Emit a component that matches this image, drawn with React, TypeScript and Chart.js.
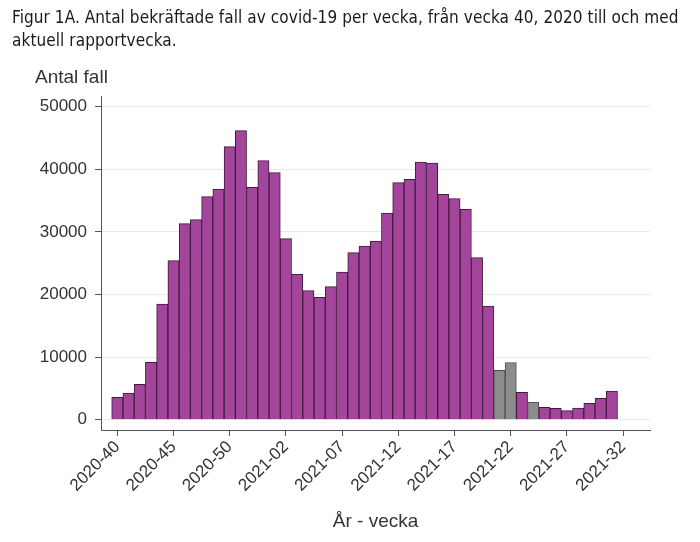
import React, { useEffect, useRef } from 'react';
import { Chart, registerables } from 'chart.js';

Chart.register(...registerables);

// Reported weeks, from 2020-40 through 2021-31
const weeks = [
  '2020-40', '2020-41', '2020-42', '2020-43', '2020-44', '2020-45', '2020-46', '2020-47',
  '2020-48', '2020-49', '2020-50', '2020-51', '2020-52', '2020-53',
  '2021-01', '2021-02', '2021-03', '2021-04', '2021-05', '2021-06', '2021-07', '2021-08',
  '2021-09', '2021-10', '2021-11', '2021-12', '2021-13', '2021-14', '2021-15', '2021-16',
  '2021-17', '2021-18', '2021-19', '2021-20', '2021-21', '2021-22', '2021-23', '2021-24',
  '2021-25', '2021-26', '2021-27', '2021-28', '2021-29', '2021-30', '2021-31',
];

// Confirmed cases per week
const cases = [
  3570, 4260, 5640, 9160, 18480, 25400, 31310, 31950,
  35620, 36850, 43610, 46170, 37110, 41370,
  39460, 28910, 23220, 20610, 19540, 21250, 23590, 26680,
  27740, 28540, 33010, 37860, 38390, 41160, 41000, 36000,
  35300, 33600, 25880, 18160, 7900, 9100, 4370, 2820,
  1970, 1810, 1440, 1860, 2610, 3410, 4580,
];

// Weeks shown in grey
const greyWeeks = ['2021-21', '2021-22', '2021-24'];

const xTickLabels = [
  '2020-40', '2020-45', '2020-50', '2021-02', '2021-07',
  '2021-12', '2021-17', '2021-22', '2021-27', '2021-32',
];
const yTickValues = [0, 10000, 20000, 30000, 40000, 50000];

const TITLE_LINES = [
  'Figur 1A. Antal bekräftade fall av covid-19 per vecka, från vecka 40, 2020 till och med',
  'aktuell rapportvecka.',
];

// Position of a "YYYY-WW" week on a running week index (2020 had 53 weeks)
function weekIndex(label: string): number {
  const [y, w] = label.split('-').map(Number);
  return y === 2020 ? w - 40 : 14 + (w - 1);
}

const PURPLE = '#a3459a';
const PURPLE_EDGE = '#45193f';
const GREY = '#8c8c8c';
const GREY_EDGE = '#4d4d4d';
const AXIS = '#555555';
const TEXT = '#333333';
const FONT = '"Liberation Sans", Arial, sans-serif';

export default function App() {
  const canvasRef = useRef<HTMLCanvasElement | null>(null);

  useEffect(() => {
    const canvas = canvasRef.current;
    if (!canvas) return;

    const points = weeks.map((w, i) => ({ x: weekIndex(w), y: cases[i] }));
    const isGrey = weeks.map((w) => greyWeeks.includes(w));
    const tickPos = xTickLabels.map((l) => weekIndex(l));

    const chart = new Chart(canvas, {
      type: 'bar',
      data: {
        datasets: [
          {
            data: points as any,
            backgroundColor: isGrey.map((g) => (g ? GREY : PURPLE)),
            borderColor: isGrey.map((g) => (g ? GREY_EDGE : PURPLE_EDGE)),
            borderWidth: 1,
            barPercentage: 1,
            categoryPercentage: 1,
          },
        ],
      },
      options: {
        animation: false,
        responsive: false,
        maintainAspectRatio: false,
        layout: { padding: { left: 0, right: 50, top: 96, bottom: 0 } },
        plugins: {
          legend: { display: false },
          tooltip: { enabled: false },
        },
        scales: {
          x: {
            type: 'linear',
            min: -1.45,
            max: 47.39,
            offset: false,
            afterBuildTicks: (axis: any) => {
              axis.ticks = tickPos.map((v) => ({ value: v }));
            },
            afterFit: (axis: any) => {
              axis.height = 112;
            },
            grid: {
              display: true,
              offset: false,
              drawOnChartArea: false,
              drawTicks: true,
              tickLength: 6,
              tickColor: AXIS,
              color: AXIS,
            },
            border: { display: true, color: AXIS, width: 1 },
            ticks: {
              autoSkip: false,
              minRotation: 45,
              maxRotation: 45,
              padding: 1,
              color: TEXT,
              font: { family: FONT, size: 17 },
              callback: (_v: any, i: number) => xTickLabels[i],
            },
            title: {
              display: true,
              text: 'År - vecka',
              color: TEXT,
              font: { family: FONT, size: 19 },
              padding: { top: 0, bottom: 9 },
            },
          },
          y: {
            type: 'linear',
            min: -1650,
            max: 51700,
            afterBuildTicks: (axis: any) => {
              axis.ticks = yTickValues.map((v) => ({ value: v }));
            },
            afterFit: (axis: any) => {
              axis.width = 101;
            },
            grid: {
              display: true,
              drawOnChartArea: true,
              drawTicks: true,
              tickLength: 6,
              color: '#e4ecef',
              tickColor: AXIS,
            },
            border: { display: true, color: AXIS, width: 1 },
            ticks: {
              padding: 8,
              color: TEXT,
              font: { family: FONT, size: 17 },
              callback: (v: any) => String(v),
            },
          },
        },
      },
    });

    return () => chart.destroy();
  }, []);

  return (
    <div style={{ position: 'fixed', left: 0, top: 0, width: 700, height: 542, background: '#fff' }}>
      <canvas ref={canvasRef} width={700} height={542} style={{ position: 'absolute', left: 0, top: 0 }} />
      <div
        style={{
          position: 'absolute',
          left: 12,
          top: 6,
          fontFamily: '"DejaVu Sans Condensed", "DejaVu Sans", sans-serif',
          fontSize: 17,
          lineHeight: '23px',
          letterSpacing: '0.08px',
          color: '#1a1a1a',
          whiteSpace: 'nowrap',
        }}
      >
        {TITLE_LINES.map((t) => (
          <div key={t}>{t}</div>
        ))}
      </div>
      <div
        style={{
          position: 'absolute',
          left: 35,
          top: 66,
          fontFamily: FONT,
          fontSize: 19,
          color: TEXT,
          whiteSpace: 'nowrap',
        }}
      >
        Antal fall
      </div>
    </div>
  );
}
